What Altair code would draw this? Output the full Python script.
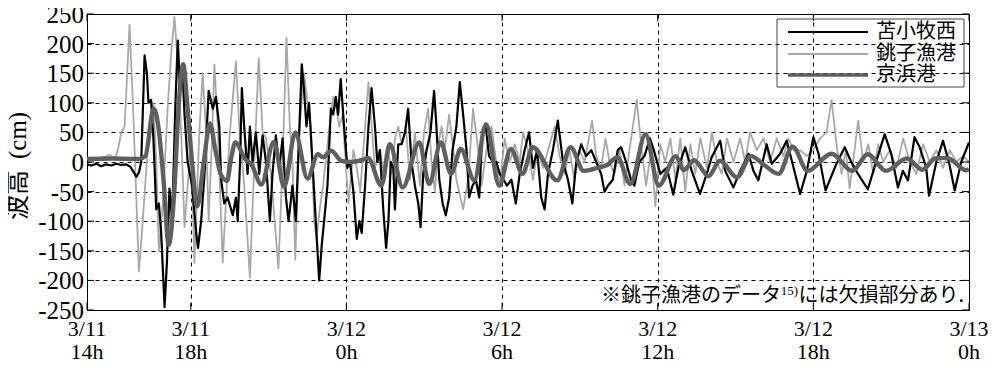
import altair as alt
import pandas as pd

# ---------------- data ----------------
SERIES = ["苫小牧西", "銚子漁港", "京浜港"]
COLORS = ["#000000", "#a8a8a8", "#5f5f5f"]
WIDTHS = [2.2, 1.8, 4.4]

# hours since 3/11 14:00, wave height (cm)
TOMAKOMAI = [
    (0, -4), (0.17, -6), (0.36, -3), (0.55, -7), (0.74, -4), (0.94, -6), (1.13, -3), (1.32, -5),
    (1.51, -4), (1.67, -8), (1.77, -15), (1.9, -25), (2.0, -18), (2.09, 0), (2.22, 180), (2.31, 150),
    (2.37, 100), (2.47, 105), (2.56, 40), (2.67, -80), (2.77, -70), (2.86, -120), (2.99, -245),
    (3.08, -170), (3.18, -45), (3.28, -100), (3.41, 100), (3.5, 205), (3.59, 120), (3.67, 165),
    (3.76, 80), (3.88, 0), (4.05, -40), (4.21, -120), (4.28, -145), (4.4, -100), (4.53, -20),
    (4.69, 120), (4.85, 90), (4.97, 110), (5.1, 60), (5.17, -30), (5.29, -70), (5.42, -60),
    (5.62, -90), (5.74, -60), (5.81, -100), (5.9, 0), (5.97, 125), (6.06, 60), (6.19, -20),
    (6.28, 60), (6.38, 0), (6.51, 50), (6.64, -20), (6.77, 45), (6.9, 0), (7.05, -100), (7.15, -20),
    (7.28, 45), (7.41, -10), (7.54, 40), (7.67, -60), (7.77, -100), (7.92, -40), (8.05, -100),
    (8.18, 50), (8.28, 165), (8.37, 120), (8.46, 60), (8.56, 100), (8.69, 0), (8.82, -100),
    (8.95, -200), (9.05, -140), (9.14, -100), (9.27, -40), (9.4, 90), (9.49, 80), (9.59, 110),
    (9.68, 80), (9.78, 140), (9.91, 60), (10.04, -10), (10.14, 0), (10.27, -50), (10.4, -130),
    (10.5, -100), (10.59, -120), (10.72, -40), (10.85, 60), (10.97, 125), (11.1, 60), (11.19, 0),
    (11.29, 20), (11.42, -80), (11.53, -145), (11.62, -100), (11.71, 0), (11.81, -10), (11.87, -80),
    (12.0, 30), (12.13, 30), (12.26, 50), (12.38, 90), (12.51, 0), (12.64, -40), (12.77, -70),
    (12.86, -110), (12.96, -20), (13.09, 20), (13.24, 50), (13.38, 120), (13.47, 60), (13.58, -30),
    (13.71, -70), (13.83, -90), (13.96, -60), (14.09, 20), (14.24, 60), (14.37, 135), (14.5, 80),
    (14.63, 20), (14.73, -60), (14.86, -40), (14.99, -30), (15.12, -60), (15.24, 50), (15.37, 60),
    (15.5, 10), (15.65, 0), (15.78, 0), (15.91, -20), (16.06, -30), (16.19, -40), (16.36, -30),
    (16.53, -70), (16.68, -20), (16.87, 20), (17.04, 50), (17.19, -10), (17.35, 20), (17.51, -60),
    (17.64, -80), (17.77, -20), (17.96, 20), (18.15, 70), (18.35, 0), (18.54, -30), (18.71, -70),
    (18.86, 0), (19.05, 30), (19.24, 10), (19.44, 20), (19.63, 0), (19.82, -20), (19.95, -50),
    (20.08, -40), (20.27, -30), (20.46, 20), (20.59, 25), (20.78, 0), (20.97, -30), (21.1, -40),
    (21.29, 0), (21.49, 10), (21.7, 40), (21.85, 20), (22.1, -20), (22.35, -10), (22.6, -55),
    (22.8, -9), (23.06, 25), (23.31, -15), (23.63, -54), (23.89, -20), (24.08, 8), (24.41, 36),
    (24.6, -15), (24.92, -43), (25.18, -15), (25.5, 14), (25.69, -15), (25.88, -31), (26.2, 30),
    (26.4, -3), (26.72, 14), (26.97, 36), (27.17, 2), (27.49, -54), (27.75, -15), (28.0, 42),
    (28.2, 14), (28.47, -48), (28.89, -3), (29.21, 25), (29.46, 0), (29.72, -20), (30.1, -46),
    (30.43, 2), (30.75, 47), (31.0, 14), (31.26, -43), (31.45, -15), (31.65, -31), (31.9, 42),
    (32.1, 25), (32.35, -10), (32.46, -57), (32.74, 0), (33.0, 36), (33.25, -5), (33.45, -48),
    (33.7, 0), (34.0, 33),
]

CHOSHI = [
    (0, 5), (0.62, 8), (0.87, 12), (1.06, 6), (1.19, 20), (1.32, 50), (1.45, 60), (1.64, 232),
    (1.77, 100), (1.9, -60), (2.0, -185), (2.15, -100), (2.38, 50), (2.56, 100), (2.67, 0),
    (2.77, -150), (2.92, -70), (3.12, 100), (3.24, 180), (3.37, 245), (3.5, 170), (3.63, 50),
    (3.76, -110), (3.88, -40), (4.01, 40), (4.14, -170), (4.33, 50), (4.46, 150), (4.59, 50),
    (4.69, -100), (4.82, 40), (4.91, 165), (5.04, 60), (5.23, -170), (5.49, 40), (5.74, 170),
    (5.87, 60), (6.06, -40), (6.28, -195), (6.45, 0), (6.62, 175), (6.77, 50), (6.9, 40),
    (7.09, -20), (7.38, -180), (7.54, 0), (7.69, 210), (7.82, 60), (7.92, 0), (8.03, -165),
    (8.18, 50), (8.37, 150), (8.5, 100), (8.63, 60), (8.76, -100), (8.85, -130), (8.97, -80),
    (9.1, -40), (9.27, 30), (9.49, 110), (9.62, 90), (9.72, 60), (9.85, 80), (9.97, 0),
    (10.08, -70), (10.27, 20), (10.4, -10), (10.53, -50), (10.72, 60), (10.85, 135), (10.97, 60),
    (11.1, -10), (11.29, 20), (11.49, -30), (11.62, 20), (11.74, -20), (11.87, 40), (12.0, 60),
    (12.13, 30), (12.29, 60), (12.45, -30), (12.64, 50), (12.83, -40), (12.99, 50), (13.15, 90),
    (13.28, 0), (13.41, -50), (13.54, 30), (13.67, 60), (13.79, 20), (13.96, 80), (14.12, 20),
    (14.24, -30), (14.5, -80), (14.69, -30), (14.88, 90), (15.08, 20), (15.21, -40), (15.4, 20),
    (15.59, 60), (15.78, 0), (15.91, -40), (16.1, 40), (16.29, 0), (16.49, 30), (16.68, 0),
    (16.81, 50), (17.0, 20), (17.19, -30), (17.38, 20), (17.58, -10), (17.77, 20), (18.03, 60),
    (18.22, 10), (18.41, -20), (18.6, 20), (18.79, -30), (18.99, 20), (19.18, 0), (19.47, 70),
    (19.63, 10), (19.82, -10), (19.99, 40), (20.14, 0), (20.33, -20), (20.53, 20), (20.72, -40),
    (20.91, 20), (21.19, 105), (21.36, 30), (21.55, -40), (21.75, 20), (21.91, -75), (22.1, 30),
    (22.29, 0), (22.49, 40), (22.68, -30), (22.87, 40), (23.06, -50), (23.26, 30), (23.45, -20),
    (23.64, 40), (23.9, -10), (24.09, 50), (24.28, 0), (24.47, -20), (24.67, 40), (24.92, 0),
    (25.18, 40), (25.37, 0), (25.56, 50), (25.82, 20), (26.08, 40), (26.33, 0), (26.59, 40),
    (26.85, 10), (27.04, 40), (27.23, 20), (27.49, 20), (27.74, 10), (28.0, 20), (28.26, 40),
    (28.51, 50), (28.7, 105), (28.92, 20), (29.09, -20), (29.25, 20), (29.4, -45), (29.73, 70),
    (29.92, 0), (30.12, 30), (30.31, -20), (30.5, 30), (30.69, 0), (30.95, 20), (31.21, -10),
    (31.46, 40), (31.72, 0), (31.97, -20), (32.23, 30), (32.49, 0), (32.74, 20), (33.0, -10),
    (33.26, 20), (33.51, 0), (33.77, 10), (34.0, 0),
]

KEIHIN = [
    (0, 5), (1.0, 6), (2.0, 5), (2.25, 10), (2.57, 90), (2.75, 60), (2.95, -30), (3.15, -140),
    (3.35, -60), (3.54, 100), (3.71, 165), (3.86, 100), (4.05, 0), (4.25, -75), (4.5, 0),
    (4.74, 65), (4.95, 20), (5.15, -20), (5.4, -32), (5.55, 5), (5.72, 33), (6.1, 5), (6.35, -5),
    (6.72, -38), (7.2, 34), (7.6, -42), (8.03, 50), (8.5, -28), (8.9, 13), (9.1, 8), (9.42, 19),
    (9.8, 2), (10.19, 0), (10.57, 3), (10.83, 7), (11.35, -40), (11.67, 30), (12.17, -43),
    (12.81, 33), (13.19, -37), (13.64, 33), (14.03, -20), (14.41, 22), (14.93, -31), (15.38, 64),
    (15.89, -40), (16.34, 22), (16.79, -20), (17.18, 25), (18.13, -31), (18.64, 25), (19.15, -15),
    (19.67, -10), (20.05, -5), (20.44, 8), (20.95, -37), (21.53, 47), (22.04, -40), (22.7, 10),
    (23.0, -14), (23.4, 3), (23.96, -24), (24.4, 2), (25.05, -26), (25.6, 10), (26.1, -5),
    (26.66, -20), (27.2, 26), (27.78, -15), (28.7, 14), (29.5, -15), (30.1, 13), (30.8, -15),
    (31.6, 6), (32.2, -13), (32.7, 6), (33.15, 7), (33.9, -14), (34.0, -12),
]

X_TICKS = [0, 4, 10, 16, 22, 28, 34]
X_TICK_DATE = ["3/11", "3/11", "3/12", "3/12", "3/12", "3/12", "3/13"]
X_TICK_HOUR = ["14h", "18h", "0h", "6h", "12h", "18h", "0h"]
Y_TICKS = [-250, -200, -150, -100, -50, 0, 50, 100, 150, 200, 250]
Y_TICK_LABELS = ["-250", "-200", "-150", "-100", "-50", "0", "50", "100", "150", "200", "250"]

Y_TITLE_CJK = "波高"
Y_TITLE_UNIT = "(cm)"
NOTE_MAIN = "※銚子漁港のデータ"
NOTE_REF = "15)"
NOTE_TAIL = "には欠損部分あり."

SERIF = "Liberation Serif"
CJK = "Noto Sans CJK JP"

# ---------------- chart ----------------
x_scale = alt.Scale(domain=[0, 34], nice=False, zero=False)
y_scale = alt.Scale(domain=[-250, 250], nice=False, zero=False)

# axes only carry the dashed grid; labels are drawn as serif text layers
x_axis = alt.Axis(values=X_TICKS, title=None, labels=False, ticks=False, domain=False,
                  grid=True, gridDash=[4, 4], gridColor="#000000", gridWidth=1, gridOpacity=1)
y_axis = alt.Axis(values=Y_TICKS, title=None, labels=False, ticks=False, domain=False,
                  grid=True, gridDash=[4, 4], gridColor="#000000", gridWidth=1, gridOpacity=1)


def frame(pairs):
    return pd.DataFrame({"t": [p[0] for p in pairs], "v": [p[1] for p in pairs]})


def line_layer(i, pairs, interp):
    return alt.Chart(frame(pairs)).mark_line(
        color=COLORS[i], strokeWidth=WIDTHS[i], interpolate=interp, clip=True,
        strokeJoin="round").encode(
        x=alt.X("t:Q", scale=x_scale, axis=x_axis),
        y=alt.Y("v:Q", scale=y_scale, axis=y_axis),
    )


layers = [
    line_layer(1, CHOSHI, "linear"),
    line_layer(0, TOMAKOMAI, "linear"),
    line_layer(2, KEIHIN, "monotone"),
]

# inward tick marks
tick_rows = []
for tv in X_TICKS:
    tick_rows.append({"t": tv, "t2": tv, "v": -250, "v2": -238})
    tick_rows.append({"t": tv, "t2": tv, "v": 250, "v2": 238})
for yv in Y_TICKS:
    tick_rows.append({"t": 0, "t2": 0.27, "v": yv, "v2": yv})
    tick_rows.append({"t": 34 - 0.27, "t2": 34, "v": yv, "v2": yv})
layers.append(alt.Chart(pd.DataFrame(tick_rows)).mark_rule(color="#000000", strokeWidth=1).encode(
    x=alt.X("t:Q", scale=x_scale, axis=x_axis), x2="t2:Q",
    y=alt.Y("v:Q", scale=y_scale, axis=y_axis), y2="v2:Q",
))

# y tick labels (serif, ASCII hyphen)
ylab = pd.DataFrame({"v": Y_TICKS, "lab": Y_TICK_LABELS})
layers.append(alt.Chart(ylab).mark_text(
    font=SERIF, fontSize=25, align="right", baseline="middle", color="#000000", dy=1).encode(
    y=alt.Y("v:Q", scale=y_scale, axis=y_axis), x=alt.value(-3), text="lab:N"))

# x tick labels: two rows
xlab = pd.DataFrame({"t": X_TICKS, "d": X_TICK_DATE, "h": X_TICK_HOUR})
layers.append(alt.Chart(xlab).mark_text(
    font=SERIF, fontSize=22, align="center", baseline="alphabetic", color="#000000").encode(
    x=alt.X("t:Q", scale=x_scale, axis=x_axis), y=alt.value(322), text="d:N"))
layers.append(alt.Chart(xlab).mark_text(
    font=SERIF, fontSize=22, align="center", baseline="alphabetic", color="#000000").encode(
    x=alt.X("t:Q", scale=x_scale, axis=x_axis), y=alt.value(345), text="h:N"))

# y title: CJK part and serif unit, rotated
layers.append(alt.Chart(pd.DataFrame({"s": [Y_TITLE_CJK]})).mark_text(
    font=CJK, fontSize=25, angle=270, align="left", baseline="middle", color="#000000").encode(
    text="s:N", x=alt.value(-69), y=alt.value(206)))
layers.append(alt.Chart(pd.DataFrame({"s": [Y_TITLE_UNIT]})).mark_text(
    font=SERIF, fontSize=25, angle=270, align="left", baseline="middle", color="#000000").encode(
    text="s:N", x=alt.value(-69), y=alt.value(145)))

# legend (manual)
layers.append(alt.Chart(pd.DataFrame({"a": [0]})).mark_rect(
    fillOpacity=0, stroke="#444444", strokeWidth=1).encode(
    x=alt.value(690), x2=alt.value(877), y=alt.value(5), y2=alt.value(73)))
ROW_Y = [18, 40, 61]
for i, name in enumerate(SERIES):
    layers.append(alt.Chart(pd.DataFrame({"s": [name]})).mark_rule(
        color=COLORS[i], strokeWidth=WIDTHS[i] if i != 2 else 3.6).encode(
        x=alt.value(701), x2=alt.value(781), y=alt.value(ROW_Y[i])))
    layers.append(alt.Chart(pd.DataFrame({"s": [name]})).mark_text(
        font=CJK, fontSize=20, align="left", baseline="middle", color="#000000").encode(
        text="s:N", x=alt.value(789), y=alt.value(ROW_Y[i])))

# note
NOTE_Y = 282
layers.append(alt.Chart(pd.DataFrame({"s": [NOTE_TAIL]})).mark_text(
    font=CJK, fontSize=20, align="right", baseline="middle", color="#000000").encode(
    text="s:N", x=alt.value(877), y=alt.value(NOTE_Y)))
layers.append(alt.Chart(pd.DataFrame({"s": [NOTE_REF]})).mark_text(
    font=SERIF, fontSize=13, align="right", baseline="middle", color="#000000").encode(
    text="s:N", x=alt.value(711), y=alt.value(NOTE_Y - 5)))
layers.append(alt.Chart(pd.DataFrame({"s": [NOTE_MAIN]})).mark_text(
    font=CJK, fontSize=20, align="right", baseline="middle", color="#000000").encode(
    text="s:N", x=alt.value(694), y=alt.value(NOTE_Y)))

chart = alt.layer(*layers).properties(
    width=882, height=296,
    padding={"left": 79, "top": 6, "right": 19, "bottom": 50},
    autosize=alt.AutoSizeParams(type="none"),
    background="white",
).configure_view(stroke="#000000", strokeWidth=1)

chart.save("out.html", embed_options={"renderer": "svg", "actions": False})
